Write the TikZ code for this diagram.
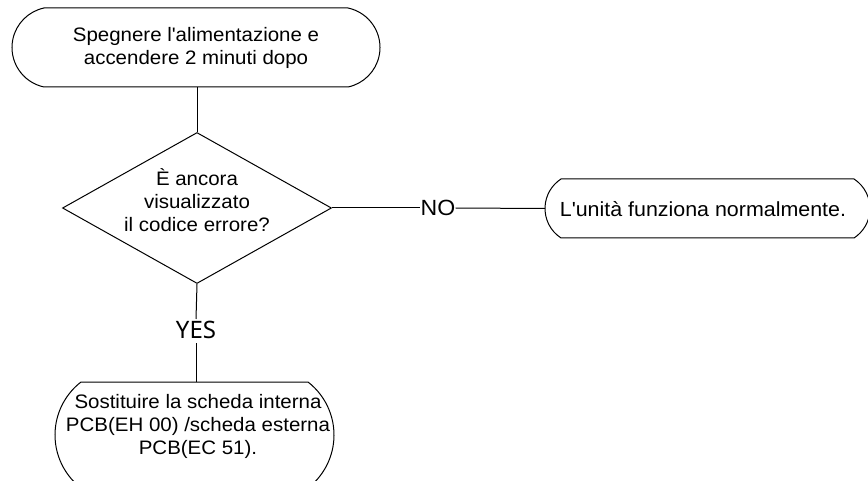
\documentclass[tikz,border=0pt]{standalone}
\usepackage{fontspec}
\setmainfont[FakeStretch=1.05]{Liberation Sans}
\newfontfamily\labelfont{Noto Sans}
\usetikzlibrary{shapes.geometric}

% Terminal box with arc ends:
% \termbox{name}{x left}{x right}{top}{bottom}{bulge}{text}
\newcommand\termbox[7]{%
  \pgfmathsetmacro\tbC{(#5-#4)/2}%
  \pgfmathsetmacro\tbR{(\tbC*\tbC+#6*#6)/(2*#6)}%
  \pgfmathsetmacro\tbT{asin(\tbC/\tbR)}%
  \node[boxtext, minimum width={(#3-#2)*1pt}, minimum height={(#5-#4)*1pt}]
    (#1) at ({(#2+#3)/2},{(#4+#5)/2}) {#7};
  \draw[flow] ({#2+#6},#4) -- ({#3-#6},#4)
    arc[start angle=\tbT, end angle=-\tbT, radius=\tbR pt]
    -- ({#2+#6},#5)
    arc[start angle=180+\tbT, end angle=180-\tbT, radius=\tbR pt] -- cycle;
}

\tikzset{
  flow/.style={line width=1pt, draw=black},
  boxtext/.style={inner sep=0pt, align=center, font=\fontsize{19.5}{23}\selectfont},
  bigtext/.style={font=\fontsize{20.4}{23}\selectfont},
  decision/.style={diamond, draw=black, line width=1pt, inner sep=0pt,
    minimum width=269pt, minimum height=151pt},
}

\begin{document}
\begin{tikzpicture}[x=1pt, y=-1pt]
  \useasboundingbox (0,0) rectangle (868,481);
  \fill[white] (0,0) rectangle (868,481);
  \clip (0,0) rectangle (868,481);

  % start box
  \termbox{start}{12}{380}{8}{87}{32}{Spegnere l\textquotesingle alimentazione e\\accendere 2 minuti dopo}

  % decision
  \node[decision] (check) at (197,208) {};
  \node[boxtext] (checktext) at (197,200) {È ancora\\visualizzato\\il codice errore?};

  % outcome boxes
  \termbox{ok}{545}{870}{179}{238}{16}{}
  \node[boxtext, bigtext] (oktext) at (703,209) {L\textquotesingle unità funziona normalmente.};
  \termbox{replace}{55}{334}{382}{488}{26}{}
  \node[boxtext] (replacetext) at (198,426) {Sostituire la scheda interna\\PCB(EH 00) /scheda esterna\\PCB(EC 51).};

  % branch labels
  \node[inner sep=0pt, font=\fontsize{22}{24}\selectfont] (no) at (438,208) {NO};
  \node[inner sep=0pt, font=\labelfont\fontsize{24}{26}\selectfont] (yes) at (196,330) {YES};

  % connectors
  \draw[flow] (start.south -| check.north) -- (check.north);
  \draw[flow] (check.east) -- (no.west);
  \draw[flow] (no.east) -- (ok.west);
  \draw[flow] (check.south) -- ([yshift=2pt]yes.north);
  \draw[flow] ([yshift=-4pt]yes.south) -- (yes.south |- replace.north);
\end{tikzpicture}
\end{document}
